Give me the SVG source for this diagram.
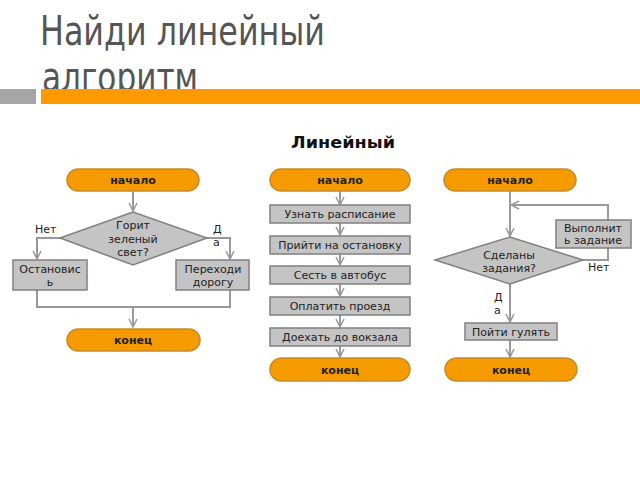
<svg xmlns="http://www.w3.org/2000/svg" width="640" height="480" viewBox="0 0 640 480">
<style>
.title{font-family:"DejaVu Sans","Liberation Sans",sans-serif;font-size:40px;font-stretch:condensed;fill:#555555}
.sub{font-family:"DejaVu Sans","Liberation Sans",sans-serif;font-size:16px;font-weight:bold;fill:#111}
.pill{fill:#F59B00;stroke:#C98A2A;stroke-width:1.5}
.pt{font-family:"DejaVu Sans","Liberation Sans",sans-serif;font-size:11px;font-weight:bold;fill:#222;text-anchor:middle}
.box{fill:#C4C4C4;stroke:#808080;stroke-width:1.5}
.t{font-family:"DejaVu Sans","Liberation Sans",sans-serif;font-size:11px;fill:#222;text-anchor:middle}
.tl{font-family:"DejaVu Sans","Liberation Sans",sans-serif;font-size:11px;fill:#222}
.c{fill:none;stroke:#999999;stroke-width:2}
</style>
<defs>
<marker id="ah" viewBox="0 0 10 10" refX="9" refY="5" markerWidth="10" markerHeight="10" markerUnits="userSpaceOnUse" orient="auto">
<polyline points="1,1 9,5 1,9" fill="none" stroke="#999999" stroke-width="1.5"/>
</marker>
</defs>
<rect x="0" y="0" width="640" height="480" fill="#ffffff"/>
<text class="title" x="40" y="45" textLength="285" lengthAdjust="spacingAndGlyphs">Найди линейный</text>
<text class="title" x="42" y="91" textLength="156" lengthAdjust="spacingAndGlyphs">алгоритм</text>
<rect x="0" y="89" width="36" height="15" fill="#A6A6A6"/>
<rect x="41" y="89" width="599" height="15" fill="#FF9900"/>
<text class="sub" x="291" y="148" textLength="104" lengthAdjust="spacingAndGlyphs">Линейный</text>

<g id="connectors">
<line class="c" x1="133" y1="191" x2="133" y2="211" marker-end="url(#ah)"/>
<polyline class="c" points="60,238 37,238 37,259" marker-end="url(#ah)"/>
<polyline class="c" points="207,238 230,238 230,259" marker-end="url(#ah)"/>
<polyline class="c" points="37,290 37,307 230,307 230,290"/>
<line class="c" x1="133" y1="307" x2="133" y2="327" marker-end="url(#ah)"/>
<line class="c" x1="340" y1="191" x2="340" y2="205" marker-end="url(#ah)"/>
<line class="c" x1="340" y1="223" x2="340" y2="235" marker-end="url(#ah)"/>
<line class="c" x1="340" y1="254" x2="340" y2="265" marker-end="url(#ah)"/>
<line class="c" x1="340" y1="284" x2="340" y2="296" marker-end="url(#ah)"/>
<line class="c" x1="340" y1="315" x2="340" y2="327" marker-end="url(#ah)"/>
<line class="c" x1="340" y1="346" x2="340" y2="357" marker-end="url(#ah)"/>
<line class="c" x1="510" y1="191" x2="510" y2="236" marker-end="url(#ah)"/>
<polyline class="c" points="583,260 608,260 608,248"/>
<polyline class="c" points="608,220 608,205 511,205" marker-end="url(#ah)"/>
<line class="c" x1="510" y1="284" x2="510" y2="322" marker-end="url(#ah)"/>
<line class="c" x1="510" y1="340" x2="510" y2="357" marker-end="url(#ah)"/>
</g>

<g id="start1"><rect class="pill" x="67" y="169" width="132" height="22" rx="11"/><text class="pt" x="133" y="184">начало</text></g>
<g id="dec1"><polygon class="box" points="60,238 133,212 207,238 133,265"/>
<text class="t" x="133" y="229">Горит</text><text class="t" x="133" y="243">зеленый</text><text class="t" x="133" y="256">свет?</text></g>
<g id="lbl-no1"><text class="tl" x="35" y="233">Нет</text></g>
<g id="lbl-yes1"><text class="tl" x="213" y="233">Д</text><text class="tl" x="213" y="246">а</text></g>
<g id="stop"><rect class="box" x="13" y="260" width="74" height="30"/><text class="t" x="50" y="273">Остановис</text><text class="t" x="50" y="286">ь</text></g>
<g id="cross"><rect class="box" x="176" y="260" width="73" height="30"/><text class="t" x="213" y="273">Переходи</text><text class="t" x="213" y="286">дорогу</text></g>
<g id="end1"><rect class="pill" x="67" y="329" width="133" height="22" rx="11"/><text class="pt" x="133" y="344">конец</text></g>

<g id="start2"><rect class="pill" x="270" y="169" width="140" height="22" rx="11"/><text class="pt" x="340" y="184">начало</text></g>
<g id="s1"><rect class="box" x="270" y="205" width="140" height="18"/><text class="t" x="340" y="218">Узнать расписание</text></g>
<g id="s2"><rect class="box" x="270" y="236" width="140" height="18"/><text class="t" x="340" y="249">Прийти на остановку</text></g>
<g id="s3"><rect class="box" x="270" y="266" width="140" height="18"/><text class="t" x="340" y="279">Сесть в автобус</text></g>
<g id="s4"><rect class="box" x="270" y="297" width="140" height="18"/><text class="t" x="340" y="310">Оплатить проезд</text></g>
<g id="s5"><rect class="box" x="270" y="328" width="140" height="18"/><text class="t" x="340" y="341">Доехать до вокзала</text></g>
<g id="end2"><rect class="pill" x="270" y="358" width="140" height="23" rx="11.5"/><text class="pt" x="340" y="374">конец</text></g>

<g id="start3"><rect class="pill" x="444" y="169" width="132" height="22" rx="11"/><text class="pt" x="510" y="184">начало</text></g>
<g id="dec3"><polygon class="box" points="435,260 510,237 583,260 510,284"/>
<text class="t" x="509" y="259">Сделаны</text><text class="t" x="509" y="272">задания?</text></g>
<g id="doit"><rect class="box" x="556" y="220" width="75" height="28"/><text class="t" x="593" y="232">Выполнит</text><text class="t" x="593" y="244">ь задание</text></g>
<g id="lbl-no3"><text class="tl" x="588" y="271">Нет</text></g>
<g id="lbl-yes3"><text class="tl" x="494" y="301">Д</text><text class="tl" x="494" y="314">а</text></g>
<g id="walk"><rect class="box" x="465" y="323" width="92" height="17"/><text class="t" x="511" y="336">Пойти гулять</text></g>
<g id="end3"><rect class="pill" x="445" y="358" width="132" height="23" rx="11.5"/><text class="pt" x="511" y="374">конец</text></g>
</svg>
